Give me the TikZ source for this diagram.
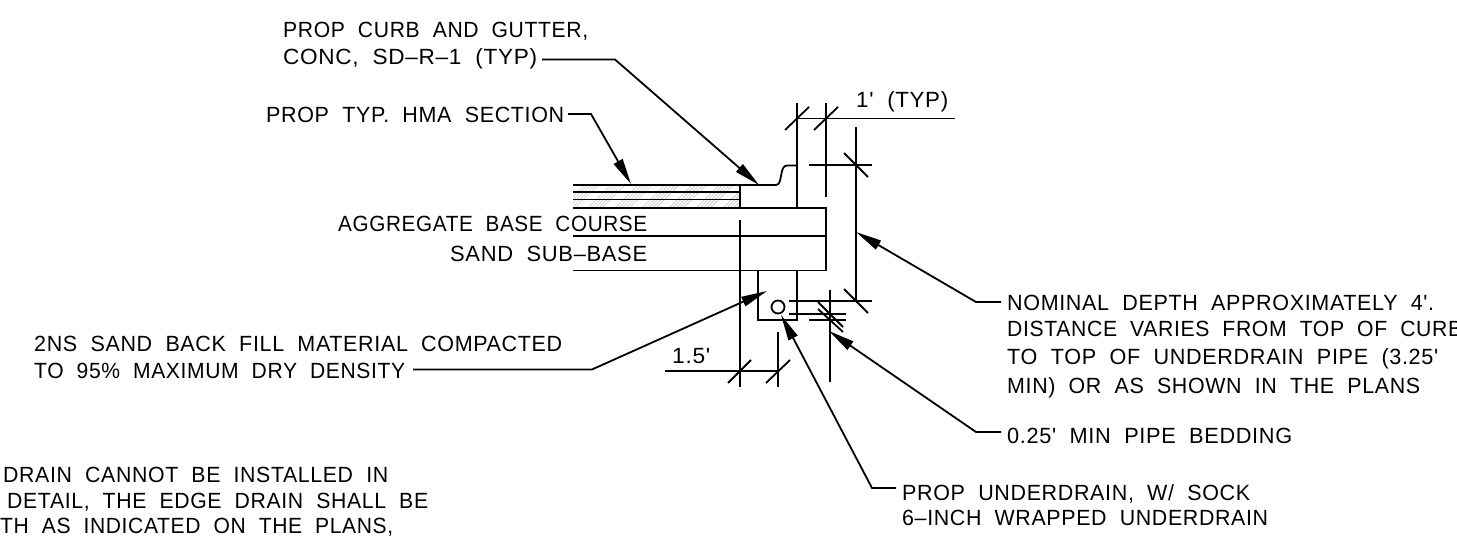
\documentclass[tikz,border=0pt]{standalone}
\usepackage{fontspec}
\newfontfamily\cadfont[LetterSpace=3,WordSpace=2]{Liberation Sans}
\usetikzlibrary{arrows.meta}
\newcommand{\fitw}[2]{\resizebox{#1pt}{\height}{#2}}
\tikzset{
  cadtext/.style={anchor=base west,inner sep=0pt,font=\cadfont\fontsize{22}{24}\selectfont},
  obj/.style={line width=1.8pt,black},
  dim/.style={line width=1.8pt,black},
  leader/.style={line width=1.8pt,black,-{Triangle[length=26pt,width=10pt]}},
  hatchline/.style={line width=0.7pt,black!22}
}
\begin{document}
\begin{tikzpicture}[x=1pt,y=-1pt]
\path[use as bounding box,fill=white] (0,0) rectangle (1457,537);
% hatching
\begin{scope}
\clip (573,184.5) rectangle (740,208.5);
\foreach \g in {0,27,...,189}
  \foreach \i in {0,3.5,7,10.5,14}
    \draw[hatchline] (560+\g+\i,209) -- (584+\g+\i,185);
\end{scope}
% pavement and base
\draw[obj] (573,185) -- (740,185);
\draw[obj] (573,192) -- (740,192);
\draw[obj] (573,199.5) -- (740,199.5);
\draw[obj] (573,208) -- (826,208) -- (826,270.5) -- (573,270.5);
\draw[obj] (573,236) -- (826,236);
\draw[obj] (740,185) -- (740,208);
% curb
\draw[obj] (740,185) -- (776,185) .. controls (783,185) and (779,165.5) .. (787,165.5) -- (797,165.5);
% trench
\draw[obj] (758,270.5) -- (758,320) -- (797,320) -- (797,270.5);
\node[draw,line width=1.8pt,circle,minimum size=13pt,inner sep=0pt] (pipe) at (778,307) {};
% dimension lines
\draw[dim] (797,103) -- (797,208);
\draw[dim] (826,103) -- (826,197);
\draw[dim] (797,118.5) -- (955,118.5);
\draw[dim] (785,130) -- (809,107);
\draw[dim] (814,130) -- (838,107);
\draw[dim] (809,165) -- (872,165);
\draw[dim] (844,153) -- (868,177);
\draw[dim] (856,127) -- (856,301);
\draw[dim] (789,301) -- (872,301);
\draw[dim] (844,289) -- (868,313);
\draw[dim] (789,314) -- (846,314);
\draw[dim] (809,320) -- (846,320);
\draw[dim] (830,290) -- (830,382);
\draw[dim] (818,302) -- (843,327);
\draw[dim] (818,309) -- (843,332);
\draw[dim] (740,220) -- (740,387);
\draw[dim] (778,332) -- (778,387);
\draw[dim] (665,371) -- (778,371);
\draw[dim] (728,383) -- (751,360);
\draw[dim] (766,383) -- (790,360);
% labels
\node[cadtext] (tcurbA) at (283,37.5) {\fitw{305}{PROP CURB AND GUTTER,}};
\node[cadtext] (tcurbB) at (283,65) {\fitw{254}{CONC, SD–R–1 (TYP)}};
\node[cadtext] (thma) at (266,122.5) {\fitw{298}{PROP TYP. HMA SECTION}};
\node[cadtext] (tagg) at (338,231.5) {\fitw{309}{AGGREGATE BASE COURSE}};
\node[cadtext] (tsand) at (450,262) {\fitw{197}{SAND SUB–BASE}};
\node[cadtext] (tnsA) at (34,352) {\fitw{528}{2NS SAND BACK FILL MATERIAL COMPACTED}};
\node[cadtext] (tnsB) at (34,378) {\fitw{371}{TO 95\% MAXIMUM DRY DENSITY}};
\node[cadtext] (tone) at (856,108) {\fitw{92}{1' (TYP)}};
\node[cadtext] (tonefive) at (672,363) {\fitw{38}{1.5'}};
\node[cadtext] (tnomA) at (1007,311) {\fitw{427}{NOMINAL DEPTH APPROXIMATELY 4'.}};
\node[cadtext] (tnomB) at (1007,337) {\fitw{455}{DISTANCE VARIES FROM TOP OF CURB}};
\node[cadtext] (tnomC) at (1007,365) {\fitw{431}{TO TOP OF UNDERDRAIN PIPE (3.25'}};
\node[cadtext] (tnomD) at (1007,393) {\fitw{413}{MIN) OR AS SHOWN IN THE PLANS}};
\node[cadtext] (tbed) at (1007,443) {\fitw{285}{0.25' MIN PIPE BEDDING}};
\node[cadtext] (tudA) at (902,500) {\fitw{348}{PROP UNDERDRAIN, W/ SOCK}};
\node[cadtext] (tudB) at (902,525) {\fitw{366}{6–INCH WRAPPED UNDERDRAIN}};
\node[cadtext] (tnoteA) at (3,482) {\fitw{385}{DRAIN CANNOT BE INSTALLED IN}};
\node[cadtext] (tnoteB) at (7,508) {\fitw{421}{DETAIL, THE EDGE DRAIN SHALL BE}};
\node[cadtext] (tnoteC) at (0,533) {\fitw{393}{TH AS INDICATED ON THE PLANS,}};
% leaders
\coordinate (lcurb) at (542,59.5); \coordinate (kcurb) at (615,59.5); \coordinate (acurb) at (759,185);
\coordinate (lhma) at (568,114); \coordinate (khma) at (591,114); \coordinate (ahma) at (631,184);
\coordinate (lnom) at (1001,302); \coordinate (knom) at (976,302); \coordinate (anom) at (856,232);
\coordinate (lns) at (413,369.5); \coordinate (kns) at (592,369.5); \coordinate (ans) at (767,291);
\coordinate (lbed) at (1001,432); \coordinate (kbed) at (976,432); \coordinate (abed) at (829,331);
\coordinate (lud) at (896,488); \coordinate (kud) at (872,488); \coordinate (aud) at (781,315);
\draw[leader] (lcurb) -- (kcurb) -- (acurb);
\draw[leader] (lhma) -- (khma) -- (ahma);
\draw[leader] (lnom) -- (knom) -- (anom);
\draw[leader] (lns) -- (kns) -- (ans);
\draw[leader] (lbed) -- (kbed) -- (abed);
\draw[leader] (lud) -- (kud) -- (aud);
\end{tikzpicture}
\end{document}
